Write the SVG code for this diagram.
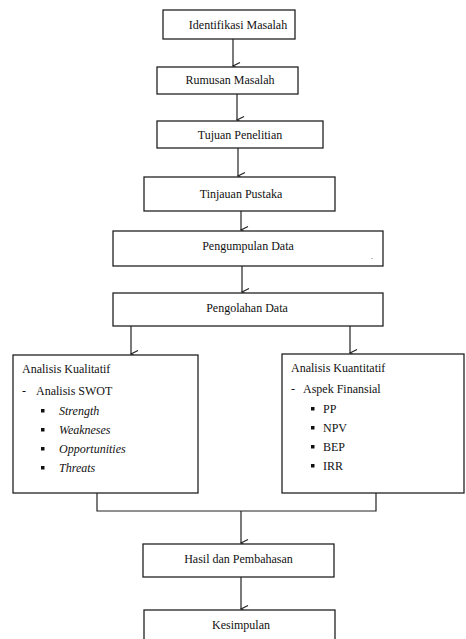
<svg xmlns="http://www.w3.org/2000/svg" width="466" height="639" viewBox="0 0 466 639">
<style>
.box{fill:#fff;stroke:#222;stroke-width:1.3}
.c{text-anchor:middle}
.i{font-style:italic}
.ln{fill:none;stroke:#222;stroke-width:1.2}
</style>
<defs>
<marker id="ah" markerWidth="10" markerHeight="10" refX="5" refY="8" orient="auto" markerUnits="userSpaceOnUse" viewBox="0 0 10 10">
<path d="M1.5,1 L5,8 L8.5,1" fill="none" stroke="#222" stroke-width="1.2"/>
</marker>
</defs>
<rect width="466" height="639" fill="#fff"/>
<g id="connectors" fill="none" stroke="#222" stroke-width="1.2">
<path d="M233,39 L233,66" marker-end="url(#ah)"/>
<path d="M237,94 L237,120" marker-end="url(#ah)"/>
<path d="M238,148 L238,176" marker-end="url(#ah)"/>
<path d="M241,211 L241,230" marker-end="url(#ah)"/>
<path d="M242,266 L242,292" marker-end="url(#ah)"/>
<path d="M131,326 L131,354" marker-end="url(#ah)"/>
<path d="M350,326 L350,353" marker-end="url(#ah)"/>
<polyline points="97,493 97,511 376,511 376,493"/>
<path d="M241,511 L241,543" marker-end="url(#ah)"/>
<path d="M241,577 L241,609" marker-end="url(#ah)"/>
</g>
<g font-family="Liberation Serif, Times New Roman, serif" font-size="12" fill="#111">
<g id="n1"><rect class="box" x="163" y="10" width="132" height="29"/><text class="c" x="238" y="29">Identifikasi Masalah</text></g>
<g id="n2"><rect class="box" x="157" y="67" width="141" height="27"/><text class="c" x="230" y="84">Rumusan Masalah</text></g>
<g id="n3"><rect class="box" x="157" y="121" width="166" height="27"/><text class="c" x="240" y="139">Tujuan Penelitian</text></g>
<g id="n4"><rect class="box" x="144" y="177" width="191" height="34"/><text class="c" x="241" y="198">Tinjauan Pustaka</text></g>
<g id="n5"><rect class="box" x="113" y="231" width="270" height="35"/><text class="c" x="248" y="250">Pengumpulan Data</text><text x="371" y="259" font-size="8">.</text></g>
<g id="n6"><rect class="box" x="113" y="293" width="270" height="33"/><text class="c" x="247" y="312">Pengolahan Data</text></g>
<g id="n7"><rect class="box" x="13" y="355" width="185" height="138"/>
<text x="22" y="373">Analisis Kualitatif</text>
<text x="22" y="395">-</text><text x="36" y="395">Analisis SWOT</text>
<rect x="41" y="409" width="3.5" height="3.5"/><rect x="41" y="428" width="3.5" height="3.5"/><rect x="41" y="447" width="3.5" height="3.5"/><rect x="41" y="466" width="3.5" height="3.5"/>
<text class="i" x="59" y="415">Strength</text>
<text class="i" x="59" y="434">Weakneses</text>
<text class="i" x="59" y="453">Opportunities</text>
<text class="i" x="59" y="472">Threats</text>
</g>
<g id="n8"><rect class="box" x="282" y="354" width="182" height="139"/>
<text x="291" y="372">Analisis Kuantitatif</text>
<text x="291" y="393">-</text><text x="303" y="393">Aspek Finansial</text>
<rect x="311" y="407" width="3.5" height="3.5"/><rect x="311" y="426" width="3.5" height="3.5"/><rect x="311" y="445" width="3.5" height="3.5"/><rect x="311" y="464" width="3.5" height="3.5"/>
<text x="323" y="413">PP</text>
<text x="323" y="432">NPV</text>
<text x="323" y="451">BEP</text>
<text x="323" y="470">IRR</text>
</g>
<g id="n9"><rect class="box" x="143" y="544" width="191" height="33"/><text class="c" x="238.5" y="563">Hasil dan Pembahasan</text></g>
<g id="n10"><rect class="box" x="144" y="610" width="191" height="40"/><text class="c" x="241" y="629">Kesimpulan</text></g>
</g>
</svg>
